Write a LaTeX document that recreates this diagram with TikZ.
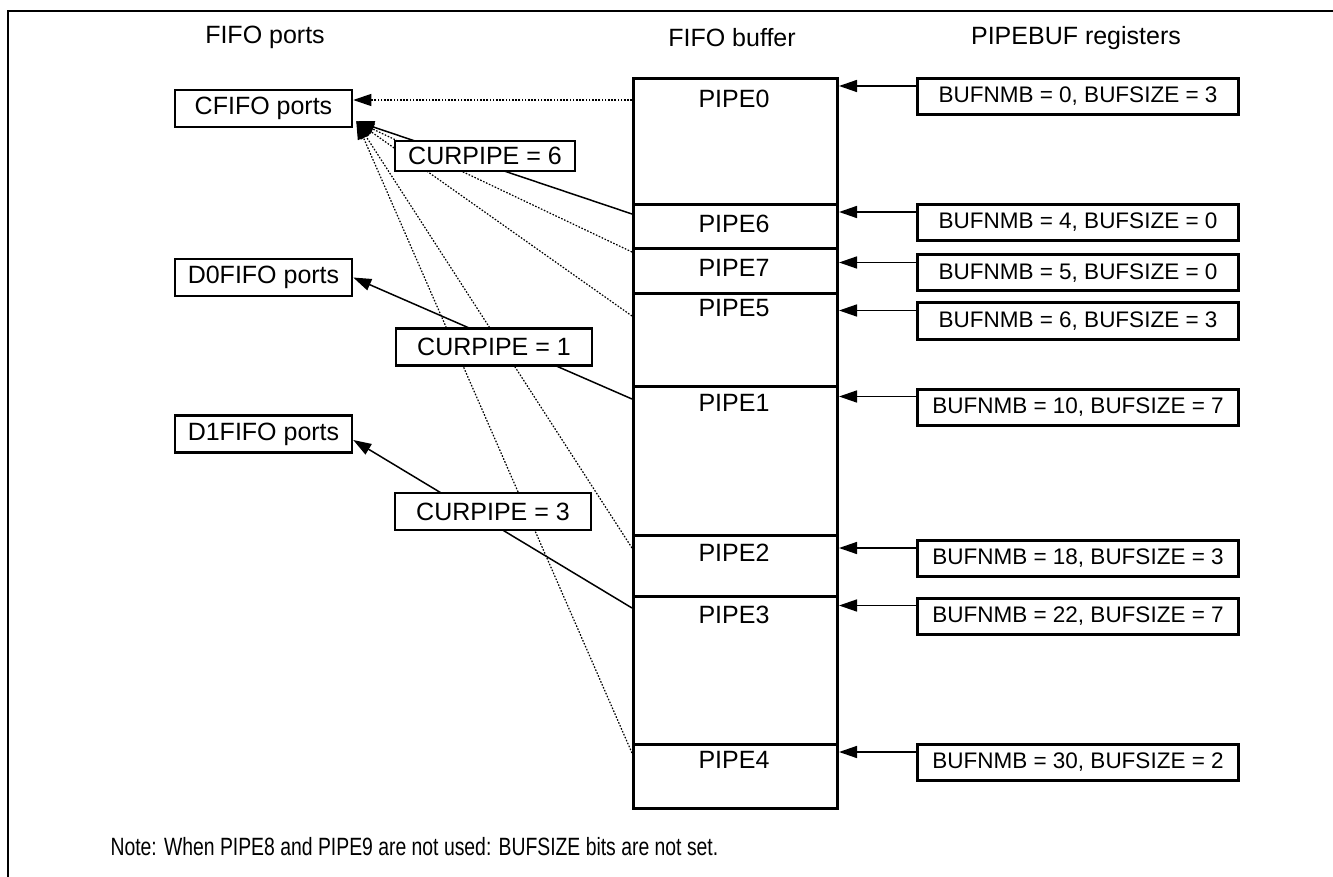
\documentclass[tikz,border=0pt]{standalone}
\usepackage{fontspec}
\setmainfont{Liberation Sans}
\newfontfamily\notefont[FakeStretch=0.775]{Liberation Sans}
\usetikzlibrary{arrows.meta,positioning}

\tikzset{
  portbox/.style={draw,line width=2.5pt,minimum width=177pt,minimum height=37pt,inner sep=0pt,font=\fontsize{25}{28}\selectfont},
  curbox/.style={draw,fill=white,line width=2.5pt,minimum height=37pt,inner sep=0pt,font=\fontsize{25}{28}\selectfont},
  regbox/.style={draw,line width=3pt,minimum width=321pt,minimum height=36pt,inner sep=0pt,font=\fontsize{22.5}{26}\selectfont},
  pipebox/.style={draw,line width=3pt,minimum width=204pt,inner sep=0pt,anchor=north west},
  heading/.style={font=\fontsize{25}{28}\selectfont},
  dots/.style={line width=1.2pt,dash pattern=on 1.6pt off 1.6pt},
  wire/.style={line width=1.5pt},
}

\begin{document}
\begin{tikzpicture}[x=1pt,y=-1pt,>={Triangle[length=18pt,width=12pt]}]
  \useasboundingbox (0,0) rectangle (1333,877);
  \draw [line width=2pt] (8,877) -- (8,11) -- (1333,11);

  \node [heading] (hports) at (265,37) {FIFO ports};
  \node [heading] (hbuf) at (732,38) {FIFO buffer};
  \node [heading] (hregs) at (1076,38) {PIPEBUF registers};

  \foreach \n/\t/\h/\ty in {0/77/126/99,6/203/44/224,7/247/45/268,5/292/93/308,1/385/149/403,2/534/61/553,3/595/148/615,4/743/64/760} {
    \node [pipebox,minimum height=\h pt] (s\n) at (632,\t) {};
    \node [heading] (t\n) at (734,\ty) {PIPE\n};
  }

  \foreach \n/\cy/\nmb/\size in {0/96.5/0/3,6/222.5/4/0,7/273/5/0,5/321/6/3,1/407/10/7,2/558.5/18/3,3/616/22/7,4/762.5/30/2} {
    \node [regbox] (r\n) at (1078,\cy) {BUFNMB = \nmb, BUFSIZE = \size};
    \draw [->,wire] ([yshift=10.5pt]r\n.west) -- ([yshift=10.5pt]r\n.west -| s\n.east);
  }

  \node [portbox] (cf) at (263.5,108.5) {CFIFO ports};
  \node [portbox] (d0) at (263.5,277.5) {D0FIFO ports};
  \node [portbox] (d1) at (263.5,434) {D1FIFO ports};

  \coordinate (o0) at (632,100);
  \coordinate (o6) at (632,214);
  \coordinate (o7) at (632,252);
  \coordinate (o5) at (632,316);
  \coordinate (o1) at (632,399);
  \coordinate (o2) at (632,548);
  \coordinate (o3) at (632,608);
  \coordinate (o4) at (632,753);
  \coordinate (tip) at ([xshift=3pt,yshift=7pt]cf.south east);

  \draw [dots,->] (o0) -- (o0 -| cf.east);
  \foreach \o in {o7,o5,o2,o4}
    \draw [dots,->] (\o) -- (tip);
  \draw [wire,->] (o6) -- (tip);
  \draw [wire,->] (o1) -- (d0.east);
  \draw [wire,->] (o3) -- ([yshift=-6pt]d1.east);

  \node [curbox,minimum width=180pt,minimum height=30pt] (c6) at (485,156) {CURPIPE = 6};
  \node [curbox,minimum width=196pt] (c1) at (494,347) {CURPIPE = 1};
  \node [curbox,minimum width=196pt] (c3) at (493,511.5) {CURPIPE = 3};

  \node [font=\notefont\fontsize{25}{28}\selectfont,anchor=west] (note) at (107,847) {Note: When PIPE8 and PIPE9 are not used: BUFSIZE bits are not set.};
\end{tikzpicture}
\end{document}
